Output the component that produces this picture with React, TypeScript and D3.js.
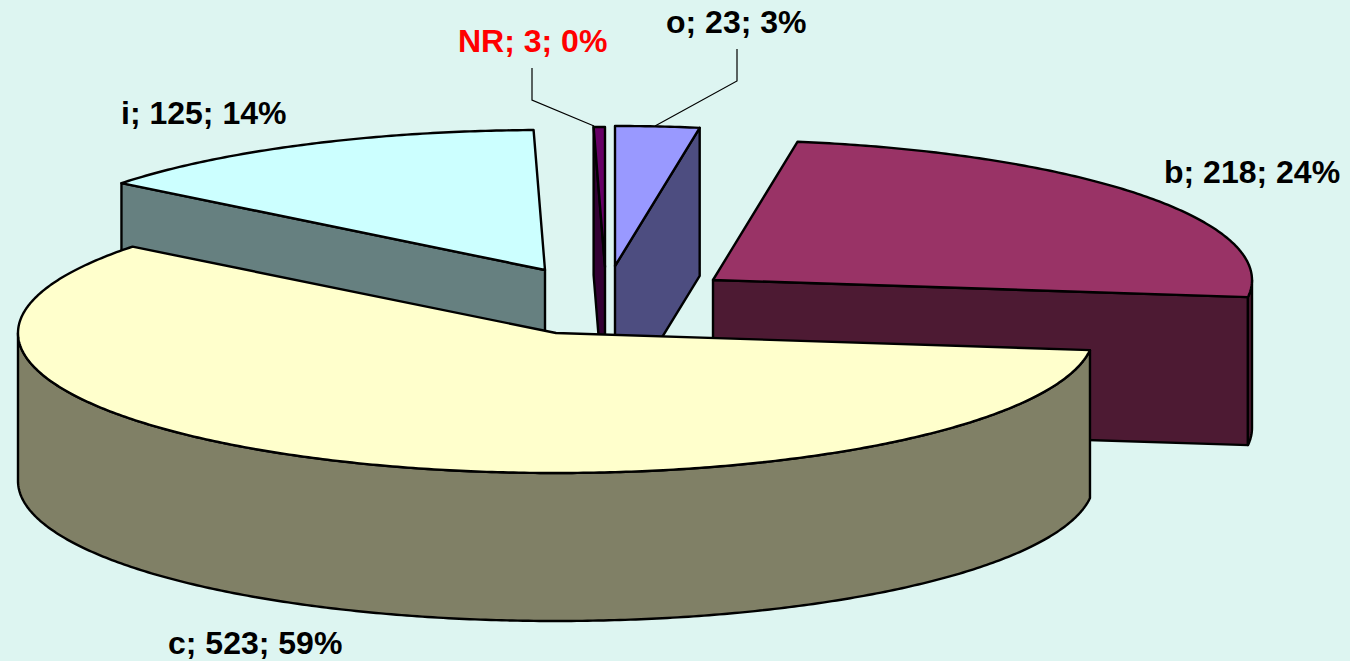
import React from "react";
import * as d3 from "d3";

// Data, in clockwise order from twelve o'clock
const names = ["o", "b", "c", "i", "NR"];
const counts = [23, 218, 523, 125, 3];
const percents = [3, 24, 59, 14, 0];

// Styling per slice
const topColors = ["#9999FF", "#993366", "#FFFFCC", "#CCFFFF", "#660066"];
const sideColors = ["#4D4D80", "#4D1A33", "#808066", "#668080", "#330033"];
const labelColors = ["#000", "#000", "#000", "#000", "#FF0000"];

// Layout: explode position of each slice apex, projection tweaks and label anchors
const apexX = [615, 713, 556, 545, 605];
const apexY = [266, 280, 333, 270, 267];
const radiusX = [525, 539, 538, 540, 539];
const twist = [0, -0.0044, -0.0044, 0, 0];
const labelX = [666, 1164, 168, 121, 458];
const labelY = [33, 183, 654, 124, 52];
const RY = 140;
const DEPTH = 148;
const W = 1350;
const H = 661;

const leaders: [number, number][][] = [
  [[737, 49], [737, 81], [655, 126]],
  [[532, 68], [532, 100], [594, 126]],
];

const yUnit = d3.scaleLinear().domain([-1, 1]).range([-RY, RY]);
const line = d3.line<[number, number]>();

const pie = d3.pie<number>().sort(null).value((d) => d);
const arcs = pie(counts);

function pt(i: number, a: number, dz = 0): [number, number] {
  return [apexX[i] + radiusX[i] * Math.sin(a), apexY[i] + yUnit(-Math.cos(a)) + dz];
}
function arcPts(i: number, a0: number, a1: number, dz = 0): [number, number][] {
  const n = Math.max(2, Math.ceil(Math.abs(a1 - a0) / 0.01));
  return d3.range(n + 1).map((k) => pt(i, a0 + ((a1 - a0) * k) / n, dz));
}

const strokeProps = {
  stroke: "#000",
  strokeWidth: 2.4,
  strokeLinejoin: "round" as const,
};

function Slice({ i }: { i: number }) {
  const a0 = arcs[i].startAngle + twist[i];
  const a1 = arcs[i].endAngle + twist[i];
  const apex: [number, number] = [apexX[i], apexY[i]];
  const apexB: [number, number] = [apexX[i], apexY[i] + DEPTH];
  const faces: string[] = [];
  // Cut faces seen from the front
  if (Math.sin(a0) < -0.01) {
    faces.push(line([apex, pt(i, a0), pt(i, a0, DEPTH), apexB])! + "Z");
  }
  if (Math.sin(a1) > 0.01) {
    faces.push(line([apex, pt(i, a1), pt(i, a1, DEPTH), apexB])! + "Z");
  }
  // Outer wall: only the part on the near half of the ellipse
  const w0 = Math.max(a0, Math.PI / 2);
  const w1 = Math.min(a1, (3 * Math.PI) / 2);
  if (w1 > w0) {
    const upper = arcPts(i, w0, w1);
    const lower = arcPts(i, w1, w0, DEPTH);
    faces.push(line([...upper, ...lower])! + "Z");
  }
  const top = line([apex, ...arcPts(i, a0, a1)])! + "Z";
  return (
    <g>
      {faces.map((d, k) => (
        <path key={k} d={d} fill={sideColors[i]} {...strokeProps} />
      ))}
      <path d={top} fill={topColors[i]} {...strokeProps} />
    </g>
  );
}

export default function App() {
  const order = [1, 0, 4, 3, 2];
  return (
    <svg
      width={W}
      height={H}
      viewBox={`0 0 ${W} ${H}`}
      style={{ position: "fixed", left: 0, top: 0, display: "block" }}
    >
      <rect x={0} y={0} width={W} height={H} fill="#DDF5F1" />
      {order.map((i) => (
        <Slice key={i} i={i} />
      ))}
      {leaders.map((l, k) => (
        <path key={k} d={line(l)!} fill="none" stroke="#000" strokeWidth={1.2} />
      ))}
      {names.map((n, i) => (
        <text
          key={n}
          x={labelX[i]}
          y={labelY[i]}
          fontFamily="'Liberation Sans', Arial, sans-serif"
          fontWeight="bold"
          fontSize={32}
          fill={labelColors[i]}
        >
          {`${n}; ${counts[i]}; ${percents[i]}%`}
        </text>
      ))}
    </svg>
  );
}
